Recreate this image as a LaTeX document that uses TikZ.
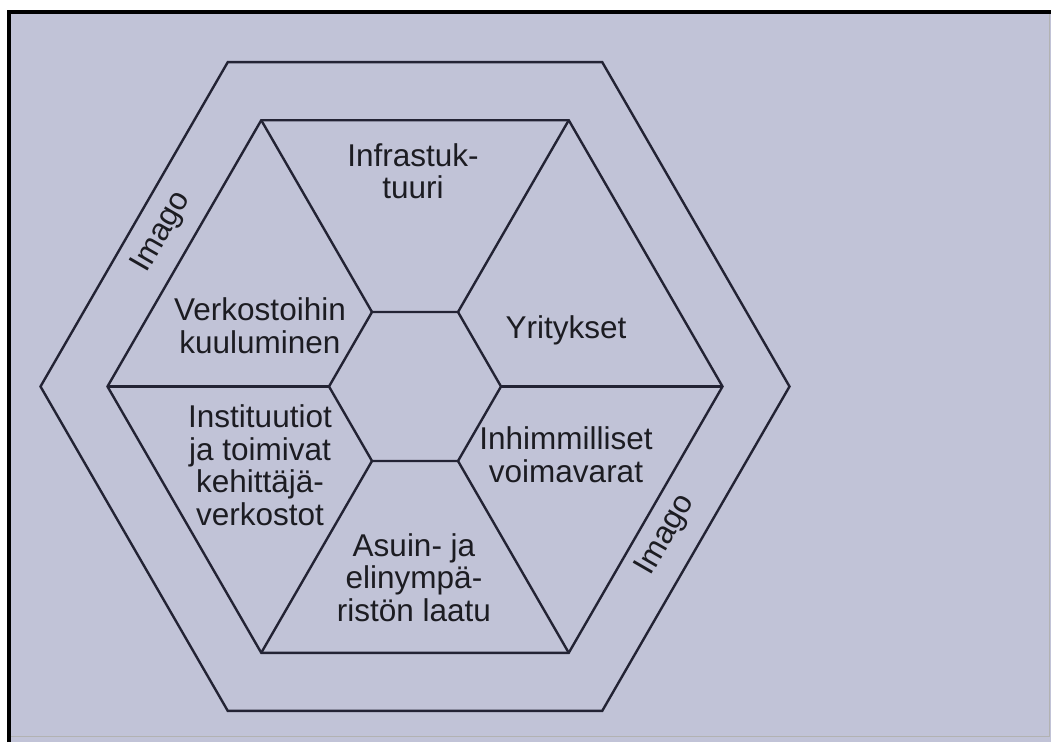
\documentclass[tikz,border=0pt]{standalone}
\usepackage{fontspec}
\setmainfont{Liberation Sans}
\definecolor{bgcol}{RGB}{193,195,215}
\definecolor{linecol}{RGB}{35,35,52}
\definecolor{txtcol}{RGB}{28,28,34}
\tikzset{
  hexline/.style={draw=linecol, line width=2.4pt, line join=miter},
  lab/.style={text=txtcol, font=\fontsize{31.5}{32.5}\selectfont, align=center, inner sep=0pt},
}
\begin{document}
\begin{tikzpicture}[x=1pt,y=-1pt]
\useasboundingbox (0,0) rectangle (1051,742);
\fill[white] (0,0) rectangle (1051,742);
\fill[bgcol] (9,12) rectangle (1051,742);
\draw[black, line width=4pt] (9,742) -- (9,12) -- (1051,12);
\draw[gray!60, line width=1pt] (1049.5,14) -- (1049.5,736) -- (11,736);
\begin{scope}[shift={(415,386.5)}]
  \foreach \i/\a in {1/0,2/60,3/120,4/180,5/240,6/300}{
    \coordinate (o\i) at (\a:374.5);
    \coordinate (n\i) at (\a:307.5);
    \coordinate (c\i) at (\a:86);
  }
\end{scope}
\draw[hexline] (o1) -- (o2) -- (o3) -- (o4) -- (o5) -- (o6) -- cycle;
\draw[hexline] (n1) -- (n2) -- (n3) -- (n4) -- (n5) -- (n6) -- cycle;
\draw[hexline] (c1) -- (c2) -- (c3) -- (c4) -- (c5) -- (c6) -- cycle;
\foreach \i in {1,...,6}{ \draw[hexline] (n\i) -- (c\i); }
\node[lab, anchor=base] (infra) at (413,198.5) {Infrastuk-\\tuuri};
\node[lab, anchor=base] (verk) at (260,353) {Verkostoihin\\kuuluminen};
\node[lab, anchor=base] (yrit) at (566,338) {Yritykset};
\node[lab, anchor=base] (inst) at (260,525) {Instituutiot\\ja toimivat\\kehittäjä-\\verkostot};
\node[lab, anchor=base] (inhi) at (566,482) {Inhimmilliset\\voimavarat};
\node[lab, anchor=base] (asui) at (414,621) {Asuin- ja\\elinympä-\\ristön laatu};
\node[lab, rotate=60] (imago1) at (162,232) {Imago};
\node[lab, rotate=60] (imago2) at (666,535) {Imago};
\end{tikzpicture}
\end{document}
